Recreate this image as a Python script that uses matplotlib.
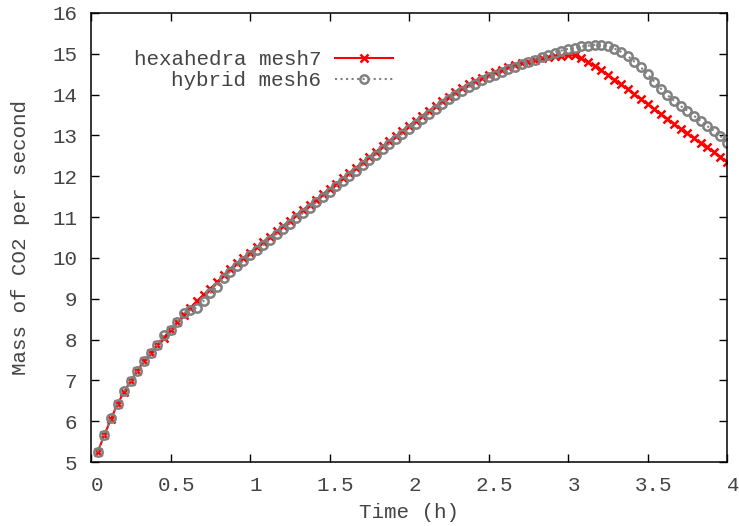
import numpy as np
import matplotlib
matplotlib.use("Agg")
import matplotlib.pyplot as plt
import matplotlib.transforms as mtransforms

# time step 150 s = 1/24 h, first sample at one step
steps = np.arange(1, 97)
time_h = steps / 24.0

hexa_mesh7 = [5.25, 5.65, 6.05, 6.42, 6.72, 6.98, 7.24, 7.47, 7.67, 7.87,
              8.05, 8.24, 8.42, 8.60, 8.78, 8.95, 9.10, 9.25, 9.40, 9.58,
              9.73, 9.87, 10.00, 10.13, 10.26, 10.39, 10.52, 10.65, 10.78, 10.91,
              11.04, 11.17, 11.30, 11.43, 11.56, 11.69, 11.82, 11.95, 12.08, 12.21,
              12.34, 12.47, 12.60, 12.73, 12.86, 12.99, 13.11, 13.24, 13.36, 13.48,
              13.60, 13.72, 13.84, 13.95, 14.06, 14.16, 14.25, 14.33, 14.41, 14.48,
              14.55, 14.61, 14.67, 14.72, 14.77, 14.81, 14.85, 14.89, 14.92, 14.94,
              14.95, 14.96, 14.96, 14.89, 14.79, 14.70, 14.60, 14.48, 14.37, 14.25,
              14.13, 14.01, 13.89, 13.77, 13.65, 13.52, 13.41, 13.28, 13.16, 13.05,
              12.93, 12.81, 12.71, 12.59, 12.48, 12.35]

hybrid_mesh6 = [5.25, 5.67, 6.08, 6.43, 6.74, 6.99, 7.24, 7.48, 7.67, 7.87,
                8.12, 8.23, 8.43, 8.65, 8.72, 8.78, 8.95, 9.13, 9.29, 9.52,
                9.66, 9.80, 9.93, 10.06, 10.19, 10.32, 10.45, 10.58, 10.71, 10.84,
                10.97, 11.10, 11.23, 11.36, 11.49, 11.62, 11.75, 11.88, 12.01, 12.14,
                12.27, 12.40, 12.53, 12.66, 12.79, 12.92, 13.04, 13.17, 13.29, 13.41,
                13.53, 13.66, 13.78, 13.89, 14.00, 14.10, 14.19, 14.27, 14.35, 14.42,
                14.49, 14.56, 14.62, 14.68, 14.74, 14.80, 14.86, 14.91, 14.97, 15.03,
                15.08, 15.12, 15.15, 15.18, 15.20, 15.22, 15.22, 15.20, 15.13, 15.05,
                14.95, 14.81, 14.67, 14.50, 14.32, 14.15, 13.99, 13.85, 13.72, 13.61,
                13.48, 13.36, 13.23, 13.12, 12.99, 12.81]

x_ticks = [0, 0.5, 1, 1.5, 2, 2.5, 3, 3.5, 4]
x_labels = ["0", "0.5", "1", "1.5", "2", "2.5", "3", "3.5", "4"]
y_ticks = list(range(5, 17))

plt.rcParams['font.family'] = ['Liberation Mono', 'DejaVu Sans Mono']
plt.rcParams['font.size'] = 15
txt_col = '#444444'

fig = plt.figure(figsize=(7.39, 5.26), dpi=100)
ax = fig.add_axes([91/739, 1 - 462/526, (727 - 91)/739, (462 - 13)/526])

ax.plot(time_h, hexa_mesh7, color='#ff0000', lw=1.5, marker='x',
        ms=6, mew=1.8, label='hexahedra mesh7')
ax.plot(time_h, hybrid_mesh6, color='#808080', lw=1.5, ls=':', marker='o',
        ms=6, mew=1.8, mfc='none', label='hybrid mesh6')

ax.set_xlim(0, 4)
ax.set_ylim(5, 16)
ax.set_xticks(x_ticks)
ax.set_xticklabels(x_labels)
ax.set_yticks(y_ticks)
ax.tick_params(direction='in', length=6, width=1, top=True, right=True,
               colors='black', labelcolor=txt_col)
ax.tick_params(axis='x', pad=10)
ax.tick_params(axis='y', pad=10)
shift = mtransforms.ScaledTranslation(6/100, 0, fig.dpi_scale_trans)
for lab in ax.get_xticklabels():
    lab.set_transform(lab.get_transform() + shift)
for sp in ax.spines.values():
    sp.set_linewidth(1.1)

ax.set_xlabel('Time (h)', color=txt_col, labelpad=6)
ax.set_ylabel('Mass of CO2 per second', color=txt_col, labelpad=16)

leg = ax.legend(loc='upper right', bbox_to_anchor=(393/739, 1 - 50/526),
                bbox_transform=fig.transFigure, frameon=False, markerfirst=False,
                handlelength=2.8, handletextpad=0.65, labelspacing=0.1,
                borderpad=0, borderaxespad=0)
for t in leg.get_texts():
    t.set_color(txt_col)

fig.savefig('out.png', dpi=100)
